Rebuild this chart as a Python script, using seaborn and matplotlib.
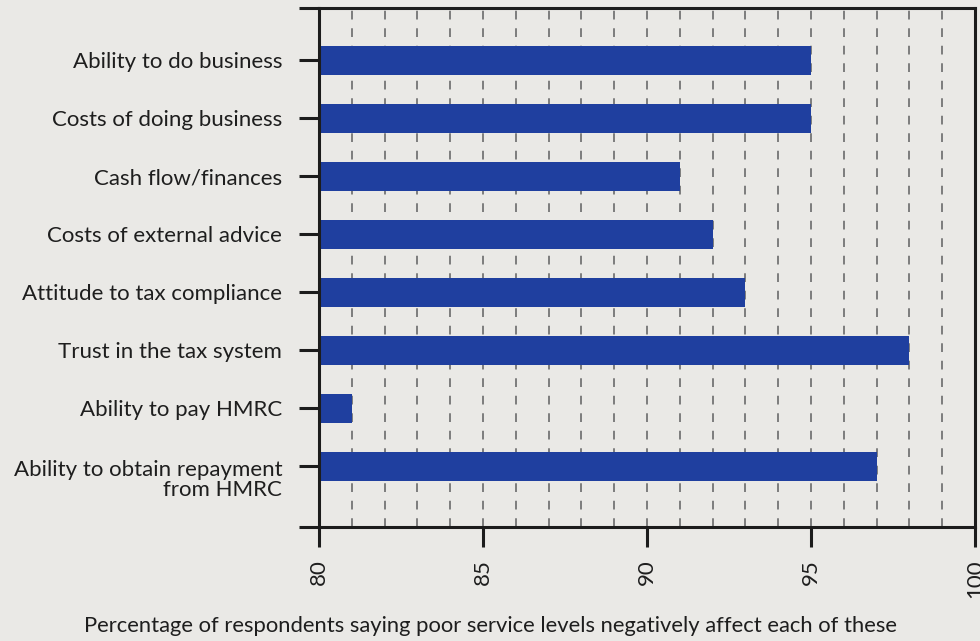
import seaborn as sns
from matplotlib import pyplot as plt
from matplotlib.transforms import ScaledTranslation

categories = [
    'Ability to do business',
    'Costs of doing business',
    'Cash flow/finances',
    'Costs of external advice',
    'Attitude to tax compliance',
    'Trust in the tax system',
    'Ability to pay HMRC',
    'Ability to obtain repayment\nfrom HMRC',
]
values = [95, 95, 91, 92, 93, 98, 81, 97]
x_ticks = [80, 85, 90, 95, 100]
x_label = 'Percentage of respondents saying poor service levels negatively affect each of these'

bg = '#eae9e6'
bar_color = '#1f3f9f'
ink = '#1c1c1c'
fs = 16

sns.set_style('white')
plt.rcParams['font.family'] = ['Lato', 'DejaVu Sans']

fig = plt.figure(figsize=(9.8, 6.41), dpi=100, facecolor=bg)
ax = fig.add_axes([319 / 980, 1 - 527 / 641, 656 / 980, 519 / 641])
ax.set_facecolor(bg)

sns.barplot(x=values, y=categories, orient='h', color=bar_color,
            saturation=1, width=0.5, linewidth=0, ax=ax)

ax.set_xlim(80, 100)
ax.set_ylim(8.05, -0.9)
ax.set_xticks(x_ticks)
ax.set_xticklabels([str(t) for t in x_ticks], rotation=90)
ax.set_xticks(range(81, 100), minor=True)
ax.set_yticks([-0.9, 8.05], minor=True)

ax.set_axisbelow(True)
ax.grid(which='both', axis='x', color='#7d7d7d', linewidth=1.4,
        linestyle=(0, (4.5, 4.5)))
ax.grid(which='both', axis='y', visible=False)

for side in ['left', 'right', 'top', 'bottom']:
    ax.spines[side].set_visible(True)
    ax.spines[side].set_color(ink)
    ax.spines[side].set_linewidth(2.2)

ax.tick_params(axis='both', which='major', length=14.4, width=2.2,
               color=ink, labelsize=fs, labelcolor='#1e1e1e')
ax.tick_params(axis='x', which='major', bottom=True, pad=9)
ax.tick_params(axis='y', which='major', left=True, pad=12)
ax.tick_params(axis='x', which='minor', length=0)
ax.tick_params(axis='y', which='minor', left=True, length=14.4,
               width=2.2, color=ink)

# multi-line label: first line sits on its tick
last = ax.get_yticklabels()[-1]
last.set_linespacing(1.05)
last.set_transform(last.get_transform() +
                   ScaledTranslation(0, -11.5 / 100, fig.dpi_scale_trans))

ax.set_ylabel('')
ax.set_xlabel(x_label, fontsize=15.8, color='#1e1e1e')
ax.xaxis.set_label_coords((490 - 319) / 656, -0.172)

plt.savefig('out.png', dpi=100, facecolor=bg)
plt.close()
